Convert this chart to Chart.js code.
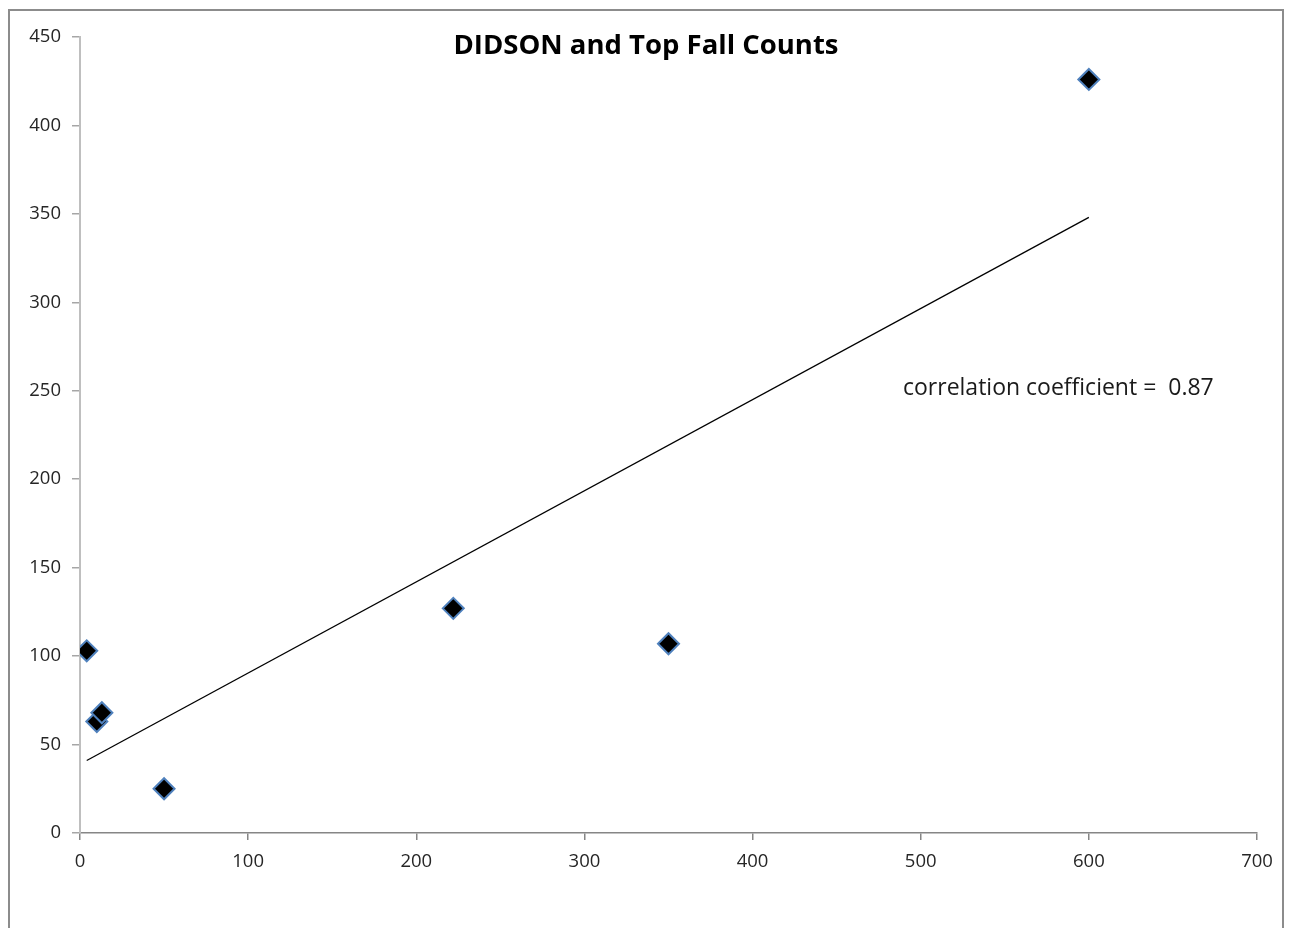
<!DOCTYPE html>
<html>
<head>
<meta charset="utf-8">
<script src="https://cdn.jsdelivr.net/npm/chart.js@4/dist/chart.umd.min.js"></script>
<style>
html,body{margin:0;padding:0;background:#fff;}
#wrap{width:1290px;height:928px;position:relative;}
</style>
</head>
<body>
<div id="wrap"><canvas id="c" width="1290" height="928"></canvas></div>
<script>
const chartTitle = 'DIDSON and Top Fall Counts';
const annotationText = 'correlation coefficient =  0.87';
const didsonCounts = [4, 10, 13, 50, 222, 350, 600];
const topFallCounts = [103, 63, 68, 25, 127, 107, 426];
const trendX = [4, 600];
const trendY = [41, 348];
const xTicks = [0, 100, 200, 300, 400, 500, 600, 700];
const yTicks = [0, 50, 100, 150, 200, 250, 300, 350, 400, 450];

const points = didsonCounts.map((x, i) => ({x: x, y: topFallCounts[i]}));
const trend = trendX.map((x, i) => ({x: x, y: trendY[i]}));

const FONT = "'Open Sans', sans-serif";

const decor = {
  id: 'decor',
  beforeDraw(chart) {
    const ctx = chart.ctx;
    ctx.save();
    ctx.strokeStyle = '#8c8c8c';
    ctx.lineWidth = 2;
    ctx.strokeRect(9, 10, 1274, 940);
    ctx.restore();
  },
  afterDraw(chart) {
    const ctx = chart.ctx;
    ctx.save();
    ctx.fillStyle = '#000';
    ctx.font = "bold 27.5px " + FONT;
    ctx.textAlign = 'center';
    ctx.textBaseline = 'middle';
    ctx.fillText(chartTitle, 646, 46);
    ctx.font = "23px " + FONT;
    ctx.fillStyle = '#1a1a1a';
    ctx.textAlign = 'left';
    ctx.fillText(annotationText, 903, 388);
    ctx.restore();
  }
};

new Chart(document.getElementById('c'), {
  type: 'scatter',
  data: {
    datasets: [
      {
        label: 'Counts',
        data: points,
        pointStyle: 'rectRot',
        pointRadius: 10.5,
        pointHoverRadius: 10.5,
        backgroundColor: '#000000',
        borderColor: '#4f81bd',
        borderWidth: 2,
        order: 1
      },
      {
        label: 'Trend',
        type: 'line',
        data: trend,
        borderColor: '#000000',
        borderWidth: 1.3,
        pointRadius: 0,
        fill: false,
        showLine: true,
        order: 2
      }
    ]
  },
  options: {
    responsive: false,
    animation: false,
    layout: {padding: {left: 0, top: 37, right: 33, bottom: 0}},
    plugins: {
      legend: {display: false},
      title: {display: false},
      tooltip: {enabled: false}
    },
    scales: {
      x: {
        type: 'linear',
        min: 0, max: 700,
        afterBuildTicks(s) { s.ticks = xTicks.map(v => ({value: v})); },
        afterFit(s) { s.height = 95; },
        border: {display: true, color: '#868686', width: 1.5},
        grid: {drawOnChartArea: false, drawTicks: true, tickLength: 7, color: '#868686', lineWidth: 1.5},
        ticks: {color: '#262626', padding: 11, font: {family: FONT, size: 18.5}, maxRotation: 0}
      },
      y: {
        type: 'linear',
        min: 0, max: 450,
        afterBuildTicks(s) { s.ticks = yTicks.map(v => ({value: v})); },
        afterFit(s) { s.width = 80; },
        border: {display: true, color: '#bfbfbf', width: 2},
        grid: {drawOnChartArea: false, drawTicks: true, tickLength: 8, color: '#a6a6a6', lineWidth: 1.5},
        ticks: {color: '#262626', padding: 11, font: {family: FONT, size: 18.5}}
      }
    }
  },
  plugins: [decor]
});
</script>
</body>
</html>
